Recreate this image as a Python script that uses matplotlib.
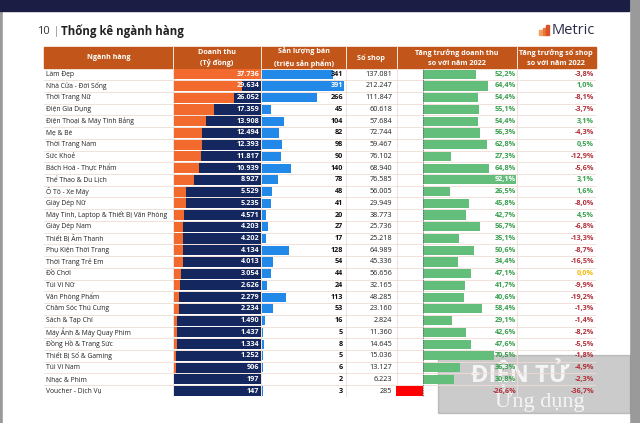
import matplotlib.pyplot as plt
import matplotlib.patches as mpatches
import numpy as np

plt.rcParams['font.family'] = ['Open Sans', 'DejaVu Sans']

categories = ["Làm Đẹp", "Nhà Cửa - Đời Sống", "Thời Trang Nữ", "Điện Gia Dụng",
              "Điện Thoại & Máy Tính Bảng", "Mẹ & Bé", "Thời Trang Nam", "Sức Khoẻ",
              "Bách Hoá - Thực Phẩm", "Thể Thao & Du Lịch", "Ô Tô - Xe Máy", "Giày Dép Nữ",
              "Máy Tính, Laptop & Thiết Bị Văn Phòng", "Giày Dép Nam", "Thiết Bị Âm Thanh",
              "Phụ Kiện Thời Trang", "Thời Trang Trẻ Em", "Đồ Chơi", "Túi Ví Nữ",
              "Văn Phòng Phẩm", "Chăm Sóc Thú Cưng", "Sách & Tạp Chí",
              "Máy Ảnh & Máy Quay Phim", "Đồng Hồ & Trang Sức", "Thiết Bị Số & Gaming",
              "Túi Ví Nam", "Nhạc & Phim", "Voucher - Dịch Vụ"]
revenue = [37736, 29634, 26052, 17359, 13908, 12494, 12393, 11817, 10939, 8927, 5529, 5235,
           4571, 4203, 4202, 4134, 4013, 3054, 2626, 2279, 2234, 1490, 1437, 1334, 1252,
           906, 197, 147]
units = [341, 391, 266, 45, 104, 82, 98, 90, 140, 78, 48, 41, 20, 27, 17, 128, 54, 44, 24,
         113, 53, 16, 5, 8, 5, 6, 2, 3]
shops = [137081, 212247, 111847, 60618, 57684, 72744, 59467, 76102, 68940, 76585, 56005,
         29949, 38773, 25736, 25218, 64989, 45336, 56656, 32165, 48285, 23160, 2824, 11360,
         14645, 15036, 13127, 6223, 285]
rev_growth = [52.2, 64.4, 54.4, 55.1, 54.4, 56.3, 62.8, 27.3, 64.8, 92.1, 26.5, 45.8, 42.7,
              56.7, 35.1, 50.6, 34.4, 47.1, 41.7, 40.6, 58.4, 29.1, 42.6, 47.6, 70.5, 36.3,
              30.8, -26.6]
shop_growth = [-3.8, 1.0, -8.1, -3.7, 3.1, -4.3, 0.5, -12.9, -5.6, 3.1, 1.6, -8.0, 4.5, -6.8,
               -13.3, -8.7, -16.5, 0.0, -9.9, -19.2, -1.3, -1.4, -8.2, -5.5, -1.8, -4.9,
               -2.3, -36.7]
headers = ["Ngành hàng", "Doanh thu\n(Tỷ đồng)", "Sản lượng bán\n(triệu sản phẩm)",
           "Số shop", "Tăng trưởng doanh thu\nso với năm 2022",
           "Tăng trưởng số shop\nso với năm 2022"]

W, H = 640, 423
n = len(categories)
rows = np.arange(n)
top, bot = 68.4, 396.9
col_edges = [44, 173, 261, 346, 396.5, 516.5, 596]

NAVY = '#14275f'
ORANGE = '#f26a2e'
BLUE = '#2389e8'
GREEN = '#63be7b'
HEAD = '#c2561a'
LINE = '#efdcd4'
TXT_G = '#36a04c'
TXT_R = '#b3303a'


def fmt_dot(v):
    return f"{v:,}".replace(",", ".")


def fmt_pct(v):
    return f"{v:.1f}%".replace(".", ",")


def px_axes(x0, y0, x1, y1):
    a = fig.add_axes([x0 / W, 1 - y1 / H, (x1 - x0) / W, (y1 - y0) / H])
    a.set_ylim(n - 0.5, -0.5)
    a.axis('off')
    return a


fig = plt.figure(figsize=(6.4, 4.23), dpi=100, facecolor='#9a9a9a')

# page background / frame
bg = fig.add_axes([0, 0, 1, 1])
bg.set_xlim(0, W)
bg.set_ylim(H, 0)
bg.axis('off')
bg.add_patch(mpatches.Rectangle((3, 0), 626, H, color='white'))
bg.add_patch(mpatches.Rectangle((0, 0), 629, 11, color='#1c1d45'))

bg.text(37, 31.5, "10", fontsize=8, color='#333333', va='center')
bg.text(54, 31.5, "|", fontsize=7, color='#777777', va='center')
bg.text(61, 31.5, "Thống kê ngành hàng", fontsize=8.3, fontweight='bold',
        color='#222222', va='center')

# Metric logo
for k, (hh, c) in enumerate(zip([5, 7, 10], ['#f0a060', '#e8763a', '#d9522a'])):
    bg.add_patch(mpatches.Rectangle((539 + k * 3.6, 35 - hh), 3, hh, color=c))
bg.text(552, 30.5, "Metric", fontsize=10.5, color='#2a2d4a', va='center')

# header
bg.add_patch(mpatches.Rectangle((col_edges[0], 47.3), col_edges[-1] - col_edges[0],
                                top - 47.3 - 0.3, color=HEAD))
for k, h in enumerate(headers):
    cx = (col_edges[k] + col_edges[k + 1]) / 2
    bg.text(cx, 57.8, h, ha='center', va='center', color='white', fontsize=5.2,
            fontweight='bold', linespacing=1.6)
for x in col_edges[1:-1]:
    bg.plot([x, x], [47.3, top], color='white', lw=0.6)

# body table
tab = px_axes(col_edges[0], top, col_edges[-1], bot)
tab.set_xlim(col_edges[0], col_edges[-1])
for i in range(n):
    tab.axhline(i + 0.5, color=LINE, lw=0.6, zorder=0)
for x in col_edges[1:-1]:
    tab.axvline(x, color=LINE, lw=0.6, zorder=0)
for i in rows:
    tab.text(46, i, categories[i], va='center', ha='left', fontsize=4.9, color='#222222')
    tab.text(392, i, fmt_dot(shops[i]), va='center', ha='right', fontsize=5.2,
             color='#222222')
    g = shop_growth[i]
    c = TXT_G if g > 0 else (TXT_R if g < 0 else '#f2b705')
    tab.text(594, i, fmt_pct(g), va='center', ha='right', fontsize=5.2, color=c,
             fontweight='bold')

# revenue bars
ax_dt = px_axes(173.5, top, 260.5, bot)
rmax = max(revenue)
ax_dt.barh(rows, [rmax] * n, height=0.86, color=NAVY)
ax_dt.barh(rows, revenue, height=0.86, color=ORANGE)
ax_dt.set_xlim(0, rmax)
for i in rows:
    ax_dt.text(rmax * 0.985, i, fmt_dot(revenue[i]), ha='right', va='center',
               color='white', fontsize=5.2, fontweight='bold')

# units bars
ax_sl = px_axes(262, top, 343.5, bot)
umax = max(units)
ax_sl.barh(rows, units, height=0.78, color=BLUE)
ax_sl.set_xlim(0, umax)
for i in rows:
    ax_sl.text(umax * 0.995, i, str(units[i]), ha='right', va='center',
               color='white' if units[i] == umax else '#111111', fontsize=5.2,
               fontweight='bold')

# revenue growth bars
ax_tg = px_axes(396, top, 516.5, bot)
ax_tg.barh(rows, rev_growth, height=0.78,
           color=[GREEN if v >= 0 else '#ff0000' for v in rev_growth])
ax_tg.set_xlim(-26.8, 92.5)
ax_tg.axvline(0, color='#555555', lw=0.6, ls=(0, (1, 1)))
for i in rows:
    v = rev_growth[i]
    c = 'white' if v > 85 else (TXT_G if v >= 0 else TXT_R)
    ax_tg.text(92.1, i, fmt_pct(v), ha='right', va='center', color=c, fontsize=5.2,
               fontweight='bold')

# watermark
bg.add_patch(mpatches.Rectangle((438, 355), 192, 58, color='#8c8c8c', alpha=0.45, zorder=5))
bg.text(520, 374, "ĐIỆN TỬ", fontsize=17, color='white', alpha=0.8, ha='center',
        va='center', fontweight='bold', zorder=6)
bg.text(540, 400, "Ứng dụng", fontsize=16, color='white', alpha=0.8, ha='center',
        va='center', family='Liberation Serif', zorder=6)

fig.savefig('out.png', dpi=100, facecolor=fig.get_facecolor())
